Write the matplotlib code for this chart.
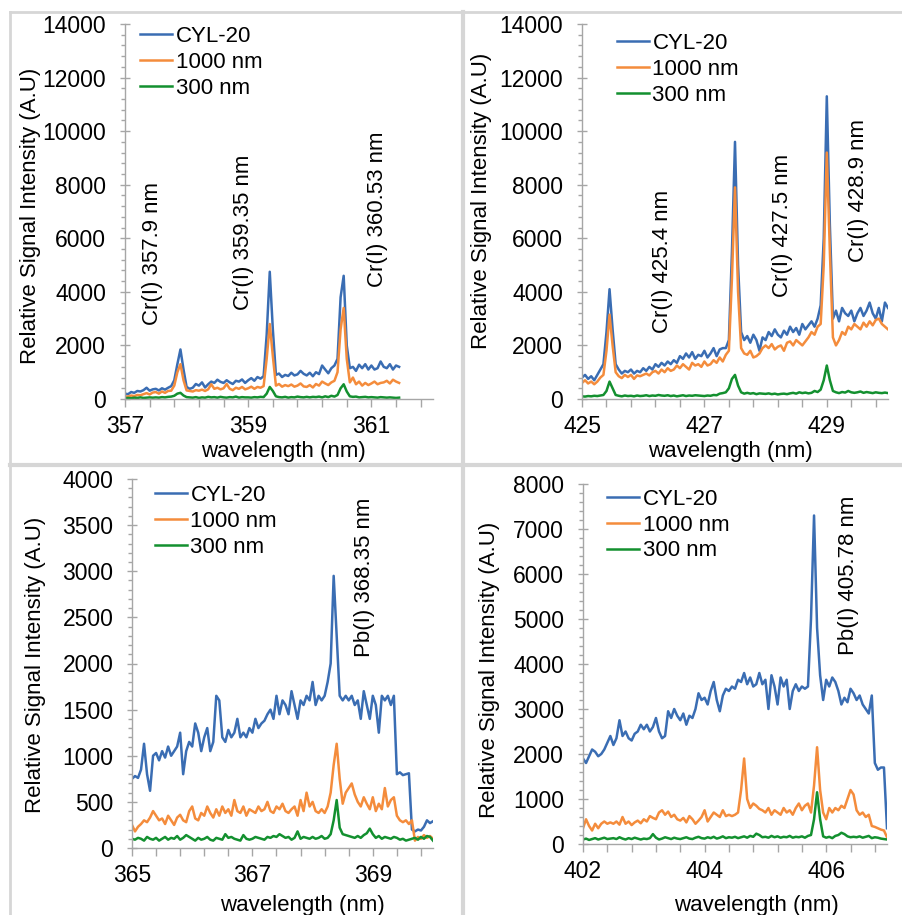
import numpy as np
import matplotlib
matplotlib.use("Agg")
import matplotlib.pyplot as plt
from matplotlib.lines import Line2D

plt.rcParams.update({"font.family": ["Liberation Sans", "DejaVu Sans"], "font.size": 16})

BLUE = "#3a6db3"
ORANGE = "#f48c3c"
GREEN = "#13902f"
AXIS = "#a6a6a6"
FRAME = "#d6d6d6"
SERIES = ["CYL-20", "1000 nm", "300 nm"]

# ---- panel A: Cr lines 357-361.45 nm, step 0.05 nm ----
wl_a = (357.0, 0.05)
cyl_a = [200, 180, 260, 230, 300, 280, 330, 420, 310, 360,
         380, 320, 400, 350, 420, 480, 700, 1300, 1850, 1100,
         450, 380, 420, 560, 500, 620, 430, 550, 650, 600,
         720, 640, 600, 700, 620, 560, 680, 650, 730, 600,
         700, 780, 680, 820, 760, 850, 2400, 4750, 2600, 900,
         950, 820, 900, 860, 980, 880, 920, 1050, 940, 880,
         980, 850, 1000, 930, 1250, 1100, 960, 1150, 1250, 1500,
         3800, 4600, 2000, 1150, 1200, 1050, 1280, 1150, 1300, 1100,
         1250, 1100, 1150, 1400, 1200, 1150, 1300, 1100, 1250, 1200]
nm1000_a = [100, 90, 130, 110, 150, 140, 180, 220, 170, 240,
            260, 200, 280, 230, 300, 310, 500, 1000, 1300, 700,
            320, 300, 280, 330, 310, 350, 300, 360, 550, 380,
            420, 360, 400, 560, 380, 330, 420, 380, 450, 360,
            400, 460, 380, 450, 420, 480, 1500, 2800, 1600, 500,
            560, 460, 520, 480, 540, 460, 500, 580, 470, 450,
            520, 430, 560, 500, 650, 580, 520, 620, 680, 1000,
            2600, 3400, 1500, 620, 800, 550, 650, 500, 600, 520,
            580, 650, 550, 600, 620, 680, 580, 720, 650, 600]
nm300_a = [30, 40, 30, 50, 40, 60, 40, 50, 60, 50,
           60, 50, 70, 60, 80, 90, 120, 200, 230, 130,
           70, 60, 50, 70, 40, 60, 50, 80, 60, 70,
           50, 80, 60, 50, 70, 60, 90, 50, 70, 60,
           60, 50, 70, 60, 80, 70, 200, 450, 300, 100,
           70, 60, 80, 50, 70, 60, 90, 70, 60, 80,
           60, 80, 70, 90, 60, 100, 70, 120, 90, 150,
           400, 550, 280, 100, 80, 90, 60, 70, 80, 60,
           70, 60, 50, 70, 60, 50, 60, 50, 40, 50]

# ---- panel B: Cr lines 425-430 nm ----
wl_b = (425.0, 0.05)
cyl_b = [800, 900, 750, 850, 700, 900, 1100, 1300, 2500, 4100,
         2600, 1300, 1100, 950, 1050, 1000, 1100, 950, 1050, 1000,
         1150, 1050, 1200, 1100, 1300, 1200, 1350, 1250, 1400, 1300,
         1450, 1350, 1600, 1500, 1700, 1550, 1750, 1500, 1650, 1600,
         1800, 1550, 1700, 1900, 1600, 1850, 1900, 1900, 2200, 5500,
         9600, 5000, 2500, 2200, 2350, 2100, 2400, 2200, 1800, 2300,
         2200, 2500, 2350, 2600, 2400, 2300, 2550, 2400, 2700, 2500,
         2650, 2400, 2800, 2600, 2750, 2900, 2700, 3000, 3500, 6000,
         11300, 6500, 3000, 3300, 2900, 3400, 3200, 3100, 3300, 2900,
         3200, 3400, 3100, 3300, 3600, 3200, 3000, 3400, 2900, 3600,
         3400]
nm1000_b = [600, 700, 580, 650, 550, 650, 800, 900, 1800, 3150,
            2000, 1000, 850, 780, 900, 820, 900, 750, 880, 850,
            900, 950, 880, 1000, 1050, 950, 1100, 1000, 1150, 1050,
            1100, 1250, 1150, 1300, 1200, 1100, 1350, 1250, 1300, 1200,
            1400, 1250, 1300, 1450, 1350, 1550, 1400, 1650, 1800, 4500,
            7900, 4000, 1900, 1700, 1650, 1800, 1550, 1600, 1700, 1900,
            2000, 1900, 2050, 1850, 1950, 2000, 1800, 2100, 2150, 2000,
            2200, 2100, 2000, 2150, 2300, 2500, 2400, 2700, 2800, 5000,
            9200, 5500, 2300, 2000, 2200, 2500, 2400, 2700, 2600, 2800,
            2700, 2600, 2850, 2700, 2900, 2750, 2950, 3000, 2800, 2700,
            2600]
nm300_b = [100, 90, 110, 100, 120, 110, 130, 150, 300, 650,
           400, 150, 120, 100, 130, 110, 120, 100, 130, 110,
           120, 140, 110, 130, 120, 150, 130, 120, 140, 110,
           130, 100, 120, 140, 110, 130, 120, 140, 130, 120,
           110, 130, 120, 150, 140, 200, 220, 250, 400, 750,
           900, 500, 250, 200, 230, 200, 220, 180, 210, 200,
           190, 210, 180, 200, 170, 190, 200, 180, 210, 230,
           200, 250, 220, 240, 210, 230, 300, 260, 350, 700,
           1250, 700, 300, 250, 220, 260, 240, 300, 250, 230,
           250, 280, 230, 260, 240, 220, 250, 230, 220, 240,
           220]

# ---- panel C: Pb line 365-370 nm ----
wl_c = (365.0, 0.05)
cyl_c = [750, 780, 760, 850, 1130, 800, 620, 1000, 1030, 950,
         1050, 980, 1100, 1000, 1050, 1100, 1250, 800, 1050, 1150,
         1100, 1350, 1250, 1050, 1200, 1300, 1050, 1150, 1650, 1600,
         1200, 1150, 1280, 1200, 1250, 1400, 1200, 1250, 1200, 1300,
         1250, 1400, 1300, 1350, 1380, 1450, 1500, 1400, 1650, 1450,
         1600, 1550, 1450, 1700, 1550, 1400, 1600, 1550, 1650, 1600,
         1800, 1550, 1650, 1600, 1650, 1800, 2000, 2950, 2300, 1650,
         1600, 1650, 1600, 1650, 1550, 1600, 1400, 1700, 1550, 1400,
         1650, 1550, 1250, 1650, 1600, 1650, 1550, 1650, 800, 820,
         790, 800, 810, 200, 180, 200, 190, 230, 300, 270,
         290]
nm1000_c = [250, 180, 230, 260, 300, 280, 330, 400, 350, 300,
            320, 260, 350, 300, 250, 330, 360, 300, 280, 400,
            450, 320, 300, 380, 350, 450, 380, 330, 420, 350,
            450, 380, 420, 350, 520, 400, 380, 450, 350, 420,
            400, 380, 450, 400, 420, 500, 400, 380, 450, 420,
            480, 400, 380, 420, 450, 350, 520, 400, 600, 450,
            500, 400, 380, 420, 380, 450, 600, 900, 1130, 750,
            480, 600, 650, 700, 580, 500, 450, 550, 480, 420,
            550, 400, 480, 420, 650, 450, 520, 550, 350, 300,
            280, 300, 260, 300, 80, 120, 100, 140, 110, 130,
            100]
nm300_c = [100, 90, 110, 100, 80, 120, 100, 90, 110, 80,
           100, 120, 90, 110, 100, 130, 90, 110, 140, 120,
           100, 80, 110, 90, 100, 120, 90, 80, 110, 100,
           90, 150, 110, 120, 100, 90, 80, 140, 100, 90,
           100, 120, 110, 100, 90, 120, 110, 130, 120, 150,
           130, 110, 120, 90, 110, 180, 100, 120, 110, 100,
           120, 100, 110, 130, 100, 110, 150, 300, 520, 220,
           150, 140, 130, 120, 110, 130, 110, 140, 160, 210,
           150, 110, 130, 100, 120, 110, 100, 120, 110, 90,
           100, 80, 90, 100, 110, 90, 120, 100, 130, 120,
           80]

# ---- panel D: Pb line 402-407 nm ----
wl_d = (402.0, 0.05)
cyl_d = [1900, 1800, 1950, 2100, 2050, 1950, 2000, 2100, 2250, 2400,
         2200, 2350, 2750, 2400, 2500, 2350, 2300, 2450, 2500, 2650,
         2550, 2650, 2500, 2600, 2800, 2500, 2350, 2400, 2950, 2800,
         3000, 2850, 2750, 2900, 2650, 2850, 2800, 3000, 3350, 3200,
         3250, 3100, 3400, 3600, 3200, 2950, 3300, 3450, 3400, 3500,
         3450, 3650, 3600, 3800, 3550, 3700, 3500, 3550, 3800, 3550,
         3650, 3000, 3750, 3500, 3100, 3700, 3500, 3650, 3000, 3400,
         3550, 3400, 3500, 3450, 3500, 5000, 7300, 4800, 3750, 3200,
         3650, 3500, 3700, 3600, 3400, 3100, 3250, 3150, 3450, 3350,
         3200, 3300, 3100, 3000, 2900, 3300, 1800, 1650, 1700, 1700,
         350]
nm1000_d = [350, 550, 400, 300, 450, 350, 450, 500, 450, 480,
            450, 500, 430, 600, 450, 500, 420, 480, 520, 460,
            550, 500, 620, 580, 550, 700, 750, 650, 720, 600,
            650, 550, 520, 580, 480, 620, 550, 450, 520, 600,
            750, 500, 600, 700, 650, 600, 750, 620, 650, 620,
            650, 700, 1200, 1900, 1000, 800, 900, 850, 780, 750,
            700, 800, 650, 750, 700, 650, 800, 700, 750, 650,
            800, 900, 750, 850, 900, 700, 1300, 2150, 1200, 700,
            550, 800, 700, 800, 750, 850, 800, 1000, 1200, 1100,
            750, 650, 700, 600, 650, 400, 380, 350, 320, 300,
            150]
nm300_d = [100, 120, 90, 110, 130, 100, 120, 140, 110, 120,
           130, 110, 150, 120, 100, 130, 110, 140, 120, 100,
           120, 110, 130, 220, 140, 100, 120, 150, 130, 110,
           140, 120, 110, 130, 150, 120, 110, 140, 160, 130,
           120, 150, 130, 160, 120, 140, 170, 130, 150, 140,
           160, 130, 150, 170, 140, 180, 160, 230, 200, 150,
           160, 140, 180, 150, 170, 140, 160, 150, 180, 140,
           160, 150, 170, 140, 180, 200, 550, 1150, 550, 170,
           140, 160, 130, 180, 200, 250, 220, 170, 150, 160,
           150, 170, 140, 160, 180, 130, 150, 140, 120, 110,
           100]

notes_a = [("Cr(I) 357.9 nm", 357.44, 2760), ("Cr(I) 359.35 nm", 358.92, 3320),
           ("Cr(I) 360.53 nm", 361.10, 4180)]
notes_b = [("Cr(I) 425.4 nm", 426.31, 2460), ("Cr(I) 427.5 nm", 428.28, 3810),
           ("Cr(I) 428.9 nm", 429.51, 5110)]
notes_c = [("Pb(I) 368.35 nm", 368.86, 2070)]
notes_d = [("Pb(I) 405.78 nm", 406.36, 4200)]

W, H = 903, 915
fig = plt.figure(figsize=(W / 100, H / 100), dpi=100)


def rect(l, t, r, b):
    return [l / W, 1 - b / H, (r - l) / W, (b - t) / H]


panels = [
    # axes box (px), data, xlim, xlabels, ylim, ymajor, yminor, notes, legend anchor, ylabel xy, xlabel xy
    (rect(125, 24, 433, 399), wl_a, (cyl_a, nm1000_a, nm300_a), (357, 362), [357, 359, 361],
     14000, 2000, 400, notes_a, (0.049, 0.995), (-0.308, 0.488), (0.513, -0.140)),
    (rect(582, 24, 888, 399), wl_b, (cyl_b, nm1000_b, nm300_b), (425, 430), [425, 427, 429],
     14000, 2000, 400, notes_b, (0.114, 0.976), (-0.327, 0.528), (0.484, -0.140)),
    (rect(132, 479, 433, 848), wl_c, (cyl_c, nm1000_c, nm300_c), (365, 370), [365, 367, 369],
     4000, 500, 100, notes_c, (0.076, 0.984), (-0.322, 0.496), (0.565, -0.155)),
    (rect(583, 484, 887, 844), wl_d, (cyl_d, nm1000_d, nm300_d), (402, 407), [402, 404, 406],
     8000, 1000, 200, notes_d, (0.079, 0.987), (-0.306, 0.483), (0.569, -0.172)),
]

for box, (w0, dw), series, xl, xlab, ytop, ymaj, ymin, notes, leg, ylxy, xlxy in panels:
    ax = fig.add_axes(box)
    x = w0 + dw * np.arange(len(series[0]))
    for vals, c, lab in zip(series, (BLUE, ORANGE, GREEN), SERIES):
        ax.plot(x, vals, color=c, lw=1.8, label=lab, solid_joinstyle="round")
    ax.set_xlim(*xl)
    ax.set_ylim(0, ytop)
    ax.set_xticks(xlab)
    ax.set_xticks(np.arange(xl[0], xl[1], 0.4), minor=True)
    ax.set_yticks(np.arange(0, ytop + 1, ymaj))
    ax.set_yticks(np.arange(0, ytop + 1, ymin), minor=True)
    ax.spines[["top", "right"]].set_visible(False)
    for s in ("left", "bottom"):
        ax.spines[s].set_color(AXIS)
        ax.spines[s].set_linewidth(1.0)
    ax.tick_params(axis="x", which="both", direction="out", length=5.5, color=AXIS, width=1.0)
    ax.tick_params(axis="x", which="major", pad=6, labelsize=16.5)
    ax.tick_params(axis="y", which="major", direction="inout", length=7, color=AXIS, width=1.0,
                   pad=10, labelsize=16.5)
    ax.tick_params(axis="y", which="minor", direction="out", length=3, color=AXIS, width=1.0)
    ax.set_ylabel("Relative Signal Intensity (A.U)", fontsize=16)
    ax.yaxis.set_label_coords(*ylxy)
    ax.yaxis.label.set_va("center")
    ax.set_xlabel("wavelength (nm)", fontsize=16)
    ax.xaxis.set_label_coords(*xlxy)
    ax.xaxis.label.set_va("center")
    for txt, tx, ty in notes:
        ax.text(tx, ty, txt, rotation=90, ha="center", va="bottom", fontsize=16)
    ax.legend(loc="upper left", bbox_to_anchor=leg, frameon=False, fontsize=16,
              handlelength=1.45, handletextpad=0.15, labelspacing=0.22,
              borderpad=0, borderaxespad=0)

# panel frames
def fline(xs, ys, lw):
    fig.add_artist(Line2D([v / W for v in xs], [1 - v / H for v in ys],
                          color=FRAME, lw=lw, zorder=10))

fline([10, W], [12, 12], 2.0)
fline([10, 10], [12, H], 2.0)
fline([463, 463], [12, H], 3.0)
fline([10, W], [465, 465], 3.0)

fig.savefig("out.png", dpi=100)
